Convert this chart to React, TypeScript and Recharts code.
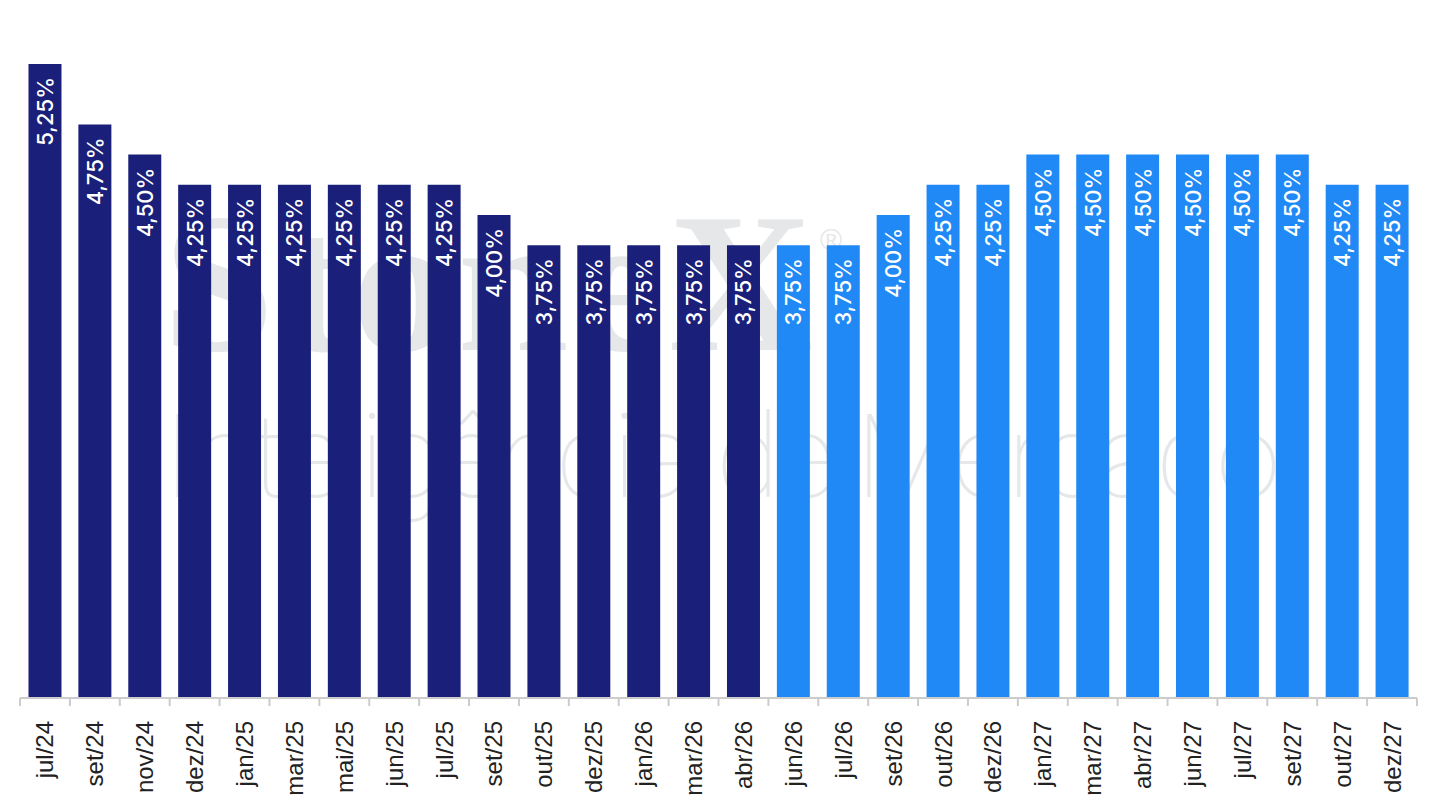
import React from 'react';
import { Bar, BarChart, Cell, LabelList, XAxis, YAxis } from 'recharts';

const months = [
  'jul/24', 'set/24', 'nov/24', 'dez/24', 'jan/25', 'mar/25', 'mai/25',
  'jun/25', 'jul/25', 'set/25', 'out/25', 'dez/25', 'jan/26', 'mar/26',
  'abr/26', 'jun/26', 'jul/26', 'set/26', 'out/26', 'dez/26', 'jan/27',
  'mar/27', 'abr/27', 'jun/27', 'jul/27', 'set/27', 'out/27', 'dez/27',
];

const rates = [
  5.25, 4.75, 4.5, 4.25, 4.25, 4.25, 4.25, 4.25, 4.25, 4.0, 3.75, 3.75, 3.75, 3.75,
  3.75, 3.75, 3.75, 4.0, 4.25, 4.25, 4.5, 4.5, 4.5, 4.5, 4.5, 4.5, 4.25, 4.25,
];

// true = projeção (azul claro)
const isProjection = [
  false, false, false, false, false, false, false, false, false, false, false, false, false, false,
  false, true, true, true, true, true, true, true, true, true, true, true, true, true,
];

const DARK = '#1a2079';
const LIGHT = '#2089f5';
const FONT = '"Liberation Sans", Arial, Helvetica, sans-serif';

const data = months.map((m, i) => ({ label: m, rate: rates[i], proj: isProjection[i] }));

const fmt = (v: number) => v.toFixed(2).replace('.', ',') + '%';

const BarValue = (props: any) => {
  const { x, y, width, value } = props;
  const cx = x + width / 2;
  const cy = y + 13;
  return (
    <text
      x={cx}
      y={cy}
      transform={`rotate(-90 ${cx} ${cy})`}
      textAnchor='end'
      dominantBaseline='central'
      fill='#ffffff'
      fontSize={22}
      fontWeight={500}
      fontFamily='Inter, "Liberation Sans", Arial, sans-serif'
    >
      {fmt(value)}
    </text>
  );
};

const MonthTick = (props: any) => {
  const { x, y, payload, index, visibleTicksCount } = props;
  const half = payload?.offset ?? 25;
  const ty = y + 15;
  return (
    <g>
      <line x1={x - half} x2={x - half} y1={y - 8} y2={y} stroke='#cccccc' strokeWidth={2} />
      {index === visibleTicksCount - 1 && (
        <line x1={x + half} x2={x + half} y1={y - 8} y2={y} stroke='#cccccc' strokeWidth={2} />
      )}
      <text
        x={x}
        y={ty}
        transform={`rotate(-90 ${x} ${ty})`}
        textAnchor='end'
        dominantBaseline='central'
        fill='#222222'
        fontSize={24}
        fontFamily={FONT}
      >
        {payload.value}
      </text>
    </g>
  );
};

const Watermark = () => (
  <svg
    width={1443}
    height={808}
    style={{ position: 'absolute', left: 0, top: 0 }}
  >
    <text
      x={163}
      y={350}
      fill='#e6e7e9'
      fontSize={200}
      fontWeight={700}
      fontFamily='"Liberation Serif", "DejaVu Serif", serif'
      textLength={650}
      lengthAdjust='spacing'
    >
      StoneX
    </text>
    <text x={820} y={250} fill='#e6e7e9' fontSize={30} fontFamily={FONT}>
      ®
    </text>
    <text
      x={163}
      y={497}
      fill='#e6e7e9'
      fontSize={116}
      fontWeight={100}
      fontFamily='Roboto, "Open Sans", sans-serif'
      textLength={1117}
      lengthAdjust='spacing'
    >
      Inteligência de Mercado
    </text>
  </svg>
);

export default function App() {
  return (
    <div
      style={{
        position: 'absolute',
        left: 0,
        top: 0,
        width: 1443,
        height: 808,
        background: '#ffffff',
        overflow: 'hidden',
      }}
    >
      <Watermark />
      <div style={{ position: 'absolute', left: 0, top: 0 }}>
        <BarChart
          width={1443}
          height={808}
          data={data}
          margin={{ top: 64, right: 26, bottom: 0, left: 20 }}
          barCategoryGap='17%'
        >
          <YAxis hide domain={[0, 5.25]} />
          <XAxis
            dataKey='label'
            height={110}
            interval={0}
            axisLine={{ stroke: '#cccccc', strokeWidth: 2 }}
            tickLine={false}
            tick={<MonthTick />}
          />
          <Bar dataKey='rate' isAnimationActive={false}>
            {data.map((d, i) => (
              <Cell key={`c-${i}`} fill={d.proj ? LIGHT : DARK} />
            ))}
            <LabelList dataKey='rate' content={<BarValue />} />
          </Bar>
        </BarChart>
      </div>
    </div>
  );
}
